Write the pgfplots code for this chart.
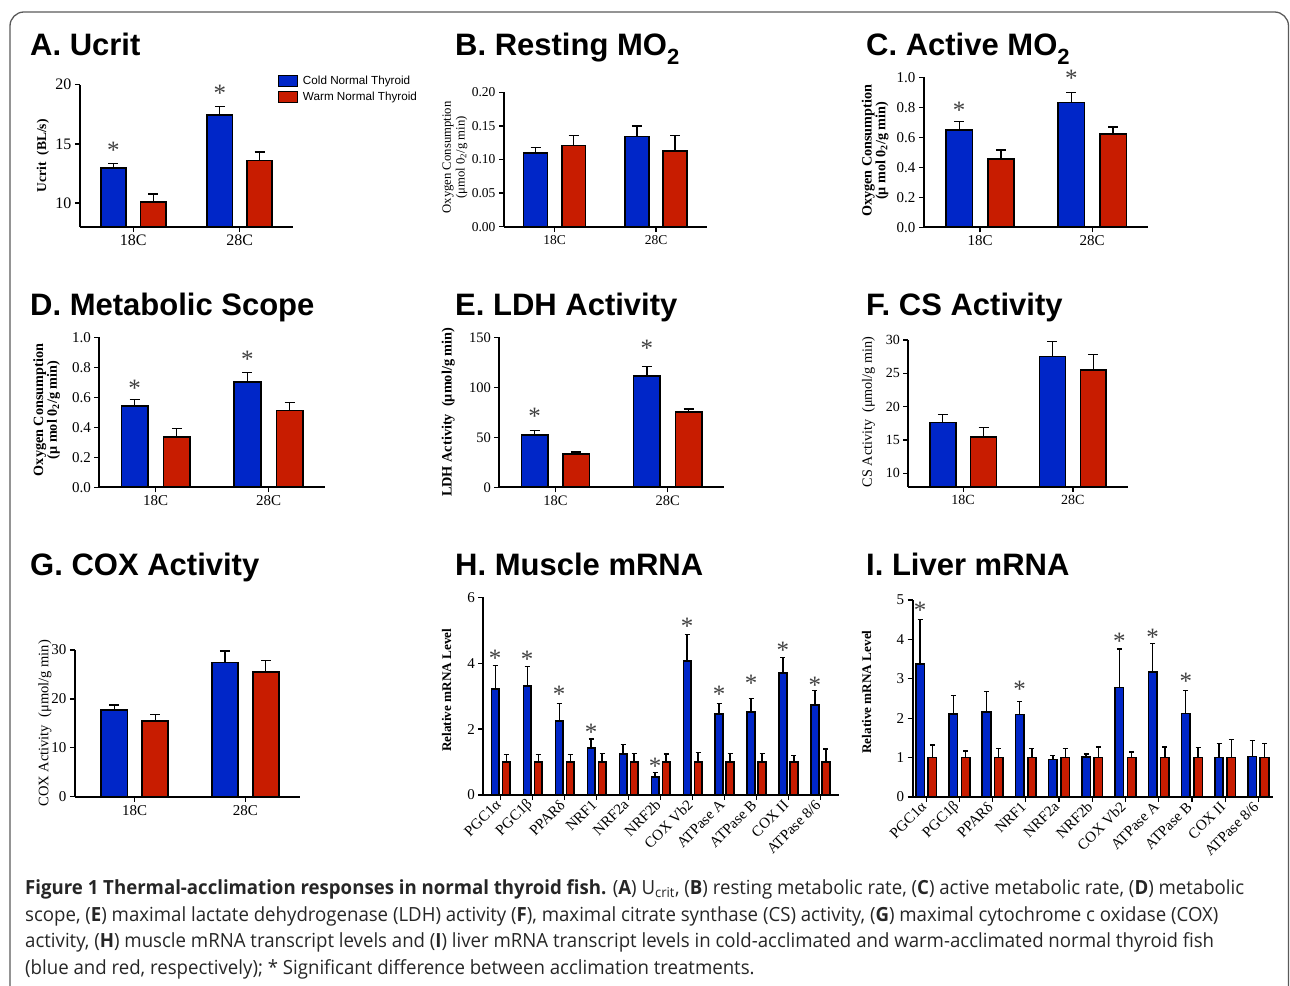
\documentclass[border=0pt]{standalone}
\usepackage{fontspec}
\setmainfont{Liberation Serif}
\newfontfamily\arialfont{Liberation Sans}
\newfontfamily\capfont[FakeStretch=0.955]{Open Sans}
\usepackage{pgfplots}
\pgfplotsset{compat=1.18}
\definecolor{cblue}{RGB}{0,38,200}
\definecolor{cred}{RGB}{200,28,0}
\definecolor{framec}{RGB}{90,90,90}
\pgfplotsset{
  panel/.style={
    scale only axis, clip=false, anchor=south west,
    axis x line*=bottom, axis y line*=left,
    axis line style={line width=1.7pt, black, -},
    tick style={line width=1.3pt, black},
    major tick length=5pt, tick align=outside,
    ybar, bar shift=0pt,
    scaled y ticks=false,
    /pgf/number format/assume math mode=true,
    tick label style={font=\fontsize{14}{14}\selectfont, black},
    ylabel style={font=\bfseries\fontsize{14.3}{15}\selectfont, anchor=center},
  },
  two/.style={panel, xmin=0.5, xmax=2.5, xtick={1,2}, xticklabels={18C,28C}, bar width=0.236},
  bl/.style={fill=cblue, draw=black, line width=1.6pt,
    error bars/.cd, y dir=plus, y explicit,
    error bar style={line width=1.3pt, black},
    error mark options={rotate=90, line width=1.3pt, black, mark size=#1}},
  bl/.default=5pt,
  rd/.style={fill=cred, draw=black, line width=1.6pt,
    error bars/.cd, y dir=plus, y explicit,
    error bar style={line width=1.3pt, black},
    error mark options={rotate=90, line width=1.3pt, black, mark size=#1}},
  rd/.default=5pt,
}
\tikzset{ast/.style={font=\fontsize{25}{25}\selectfont, text=black!75, anchor=base, yshift=-13pt, inner sep=0pt}}
\newcommand{\ttl}{\arialfont\bfseries\fontsize{31}{31}\selectfont}
\begin{document}
\begin{tikzpicture}
\path[use as bounding box] (0pt,0pt) rectangle (1290pt,985pt);
\draw[framec, line width=1.3pt, rounded corners=14pt] (10pt,-2pt) -- (10pt,973pt) -- (1288.5pt,973pt) -- (1288.5pt,-2pt);

% titles
\node[anchor=base west, inner sep=0] at (30pt,929pt) {\ttl A. Ucrit};
\node[anchor=base west, inner sep=0] at (455pt,929pt) {\ttl B. Resting MO\raisebox{-0.28em}{\fontsize{22}{22}\selectfont 2}};
\node[anchor=base west, inner sep=0] at (866pt,929pt) {\ttl C. Active MO\raisebox{-0.28em}{\fontsize{22}{22}\selectfont 2}};
\node[anchor=base west, inner sep=0] at (30pt,669pt) {\ttl D. Metabolic Scope};
\node[anchor=base west, inner sep=0] at (455pt,669pt) {\ttl E. LDH Activity};
\node[anchor=base west, inner sep=0] at (866pt,669pt) {\ttl F. CS Activity};
\node[anchor=base west, inner sep=0] at (30pt,409pt) {\ttl G. COX Activity};
\node[anchor=base west, inner sep=0] at (455pt,409pt) {\ttl H. Muscle mRNA};
\node[anchor=base west, inner sep=0] at (866pt,409pt) {\ttl I. Liver mRNA};

% A
\begin{axis}[two, at={(80pt,758.3pt)}, width=213pt, height=142pt,
  ymin=8, ymax=20, ytick={10,15,20}, clip=true, clip mode=individual,
  tick label style={font=\fontsize{16}{16}\selectfont},
  ylabel={Ucrit\ \ (BL/s)},
  ylabel style={at={(axis description cs:-0.174,0.5)}, font=\bfseries\fontsize{13.5}{14}\selectfont},
  legend style={at={(axis description cs:0.93,1.07)}, anchor=north west, draw=none, fill=none,
    font=\arialfont\fontsize{11.7}{13}\selectfont, inner sep=0pt, row sep=4pt, column sep=4pt,
    nodes={inner sep=1pt, anchor=west}},
  legend cell align=left,
  legend image code/.code={\draw[#1, line width=1.2pt] (0pt,-5.5pt) rectangle (18.5pt,5.5pt);},
]
\addplot[bl] coordinates {(0.813,12.96) +- (0,0.39) (1.813,17.46) +- (0,0.69)};
\addlegendentry{Cold Normal Thyroid}
\addplot[rd] coordinates {(1.187,10.10) +- (0,0.65) (2.187,13.58) +- (0,0.72)};
\addlegendentry{Warm Normal Thyroid}
\node[ast] at (axis cs:0.813,14.9) {*};
\node[ast] at (axis cs:1.813,19.64) {*};
\end{axis}

% B
\begin{axis}[two, at={(504pt,758.3pt)}, width=202.7pt, height=134.4pt,
  ymin=0, ymax=0.2, ytick={0,0.05,0.1,0.15,0.2},
  yticklabel style={/pgf/number format/.cd, fixed, fixed zerofill, precision=2},
  tick label style={font=\fontsize{13.5}{13.5}\selectfont},
  ylabel={Oxygen Consumption\\(μmol 0\textsubscript{2}/g min)},
  ylabel style={at={(axis description cs:-0.242,0.515)}, align=center, font=\fontsize{12.7}{13.7}\selectfont},
]
\addplot[bl] coordinates {(0.812,0.110) +- (0,0.008) (1.812,0.134) +- (0,0.016)};
\addplot[rd] coordinates {(1.188,0.121) +- (0,0.015) (2.188,0.113) +- (0,0.0225)};
\end{axis}

% C
\begin{axis}[two, at={(924pt,757.7pt)}, width=224.3pt, height=150pt,
  ymin=0, ymax=1, ytick={0,0.2,0.4,0.6,0.8,1.0},
  yticklabel style={/pgf/number format/.cd, fixed, fixed zerofill, precision=1},
  tick label style={font=\fontsize{15}{15}\selectfont},
  ylabel={Oxygen Consumption\\(μ mol 0\textsubscript{2}/g min)},
  ylabel style={at={(axis description cs:-0.218,0.51)}, align=center, font=\bfseries\fontsize{14.2}{13.7}\selectfont},
]
\addplot[bl] coordinates {(0.814,0.649) +- (0,0.055) (1.814,0.833) +- (0,0.064)};
\addplot[rd] coordinates {(1.186,0.457) +- (0,0.058) (2.186,0.622) +- (0,0.047)};
\node[ast] at (axis cs:0.814,0.81) {*};
\node[ast] at (axis cs:1.814,1.027) {*};
\end{axis}

% D
\begin{axis}[two, at={(99.3pt,497.7pt)}, width=225.7pt, height=150pt,
  ymin=0, ymax=1, ytick={0,0.2,0.4,0.6,0.8,1.0},
  yticklabel style={/pgf/number format/.cd, fixed, fixed zerofill, precision=1},
  tick label style={font=\fontsize{15}{15}\selectfont},
  ylabel={Oxygen Consumption\\(μ mol 0\textsubscript{2}/g min)},
  ylabel style={at={(axis description cs:-0.233,0.515)}, align=center, font=\bfseries\fontsize{14.2}{13.7}\selectfont},
]
\addplot[bl] coordinates {(0.813,0.542) +- (0,0.045) (1.813,0.702) +- (0,0.065)};
\addplot[rd] coordinates {(1.187,0.337) +- (0,0.054) (2.187,0.513) +- (0,0.051)};
\node[ast] at (axis cs:0.813,0.689) {*};
\node[ast] at (axis cs:1.813,0.882) {*};
\end{axis}

% E
\begin{axis}[two, at={(499.3pt,497.7pt)}, width=224.7pt, height=150pt,
  ymin=0, ymax=150, ytick={0,50,100,150},
  tick label style={font=\fontsize{14.5}{14.5}\selectfont},
  ylabel={LDH Activity\ \ (μmol/g min)},
  ylabel style={at={(axis description cs:-0.227,0.5)}},
]
\addplot[bl] coordinates {(0.814,52.0) +- (0,4.6) (1.814,111.3) +- (0,9.7)};
\addplot[rd] coordinates {(1.186,33.3) +- (0,2.0) (2.186,75.3) +- (0,3.0)};
\node[ast] at (axis cs:0.814,75.6) {*};
\node[ast] at (axis cs:1.814,143.3) {*};
\end{axis}

% F
\begin{axis}[two, at={(908.3pt,498.3pt)}, width=219.4pt, height=146.7pt,
  ymin=8, ymax=30, ytick={10,15,20,25,30}, clip=true, clip mode=individual,
  tick label style={font=\fontsize{14}{14}\selectfont},
  ylabel={CS Activity\ \ (μmol/g min)},
  ylabel style={at={(axis description cs:-0.182,0.51)}, font=\fontsize{14.2}{15}\selectfont},
]
\addplot[bl] coordinates {(0.814,17.63) +- (0,1.16) (1.814,27.5) +- (0,2.3)};
\addplot[rd] coordinates {(1.186,15.49) +- (0,1.35) (2.186,25.5) +- (0,2.3)};
\end{axis}

% G
\begin{axis}[two, xmin=0.46, xmax=2.49, at={(75pt,188.3pt)}, width=224.5pt, height=146.7pt,
  ymin=0, ymax=30, ytick={0,10,20,30},
  tick label style={font=\fontsize{15}{15}\selectfont},
  ylabel={COX Activity\ \ (μmol/g min)},
  ylabel style={at={(axis description cs:-0.134,0.5)}, font=\fontsize{14.5}{15}\selectfont},
]
\addplot[bl] coordinates {(0.815,17.67) +- (0,1.08) (1.815,27.48) +- (0,2.32)};
\addplot[rd] coordinates {(1.185,15.54) +- (0,1.31) (2.185,25.5) +- (0,2.3)};
\end{axis}

% H
\begin{axis}[panel, at={(483.3pt,190pt)}, width=356pt, height=197.7pt,
  xmin=0.455, xmax=11.59, ymin=0, ymax=6, ytick={0,2,4,6},
  tick label style={font=\fontsize{15}{15}\selectfont},
  xtick={1,...,11}, bar width=0.235,
  xticklabels={PGC1α,PGC1β,PPARδ,NRF1,NRF2a,NRF2b,COX Vb2,ATPase A,ATPase B,COX II,ATPase 8/6},
  xticklabel style={rotate=45, anchor=east, font=\fontsize{15}{15}\selectfont},
  ylabel={Relative mRNA Level},
  ylabel style={at={(axis description cs:-0.103,0.53)}, font=\bfseries\fontsize{13.2}{14}\selectfont},
]
\addplot[bl=2.5pt] coordinates {
 (0.828,3.22) +- (0,0.72) (1.828,3.30) +- (0,0.60) (2.828,2.25) +- (0,0.52)
 (3.828,1.43) +- (0,0.27) (4.828,1.25) +- (0,0.29) (5.828,0.54) +- (0,0.14)
 (6.828,4.06) +- (0,0.81) (7.828,2.45) +- (0,0.32) (8.828,2.52) +- (0,0.40)
 (9.828,3.71) +- (0,0.47) (10.828,2.74) +- (0,0.44)};
\addplot[rd=2.5pt] coordinates {
 (1.172,1.0) +- (0,0.22) (2.172,1.0) +- (0,0.22) (3.172,1.0) +- (0,0.22)
 (4.172,1.0) +- (0,0.27) (5.172,1.0) +- (0,0.27) (6.172,1.0) +- (0,0.24)
 (7.172,1.0) +- (0,0.28) (8.172,1.0) +- (0,0.25) (9.172,1.0) +- (0,0.25)
 (10.172,1.0) +- (0,0.20) (11.172,1.0) +- (0,0.40)};
\node[ast] at (axis cs:0.828,4.30) {*};
\node[ast] at (axis cs:1.828,4.25) {*};
\node[ast] at (axis cs:2.828,3.19) {*};
\node[ast] at (axis cs:3.828,2.04) {*};
\node[ast] at (axis cs:5.828,1.01) {*};
\node[ast] at (axis cs:6.828,5.26) {*};
\node[ast] at (axis cs:7.828,3.19) {*};
\node[ast] at (axis cs:8.828,3.54) {*};
\node[ast] at (axis cs:9.828,4.55) {*};
\node[ast] at (axis cs:10.828,3.49) {*};
\end{axis}

% I
\begin{axis}[panel, at={(912.7pt,188pt)}, width=360.6pt, height=197pt,
  xmin=0.594, xmax=11.45, ymin=0, ymax=5, ytick={0,1,2,3,4,5},
  tick label style={font=\fontsize{15}{15}\selectfont},
  xtick={1,...,11}, bar width=0.256,
  xticklabels={PGC1α,PGC1β,PPARδ,NRF1,NRF2a,NRF2b,COX Vb2,ATPase A,ATPase B,COX II,ATPase 8/6},
  xticklabel style={rotate=45, anchor=east, font=\fontsize{15}{15}\selectfont},
  ylabel={Relative mRNA Level},
  ylabel style={at={(axis description cs:-0.128,0.533)}, font=\bfseries\fontsize{13.2}{14}\selectfont},
]
\addplot[bl=2.5pt] coordinates {
 (0.815,3.38) +- (0,1.13) (1.815,2.11) +- (0,0.47) (2.815,2.16) +- (0,0.51)
 (3.815,2.09) +- (0,0.33) (4.815,0.95) +- (0,0.10) (5.815,1.02) +- (0,0.07)
 (6.815,2.78) +- (0,0.98) (7.815,3.18) +- (0,0.71) (8.815,2.12) +- (0,0.58)
 (9.815,1.00) +- (0,0.36) (10.815,1.03) +- (0,0.41)};
\addplot[rd=2.5pt] coordinates {
 (1.185,1.0) +- (0,0.32) (2.185,1.0) +- (0,0.17) (3.185,1.0) +- (0,0.23)
 (4.185,1.0) +- (0,0.23) (5.185,1.0) +- (0,0.23) (6.185,1.0) +- (0,0.27)
 (7.185,1.0) +- (0,0.14) (8.185,1.0) +- (0,0.27) (9.185,1.0) +- (0,0.26)
 (10.185,1.0) +- (0,0.46) (11.185,1.0) +- (0,0.35)};
\node[ast] at (axis cs:0.815,4.85) {*};
\node[ast] at (axis cs:3.815,2.86) {*};
\node[ast] at (axis cs:6.815,4.07) {*};
\node[ast] at (axis cs:7.815,4.17) {*};
\node[ast] at (axis cs:8.815,3.07) {*};
\end{axis}

% caption
\node[anchor=base west, inner sep=0, align=left, text=black!85,
  font=\capfont\fontsize{19.5}{26.4}\selectfont] at (25pt,11pt) {%
\textbf{Figure 1 Thermal-acclimation responses in normal thyroid fish.} (\textbf{A}) U\textsubscript{crit}, (\textbf{B}) resting metabolic rate, (\textbf{C}) active metabolic rate, (\textbf{D}) metabolic\\
scope, (\textbf{E}) maximal lactate dehydrogenase (LDH) activity (\textbf{F}), maximal citrate synthase (CS) activity, (\textbf{G}) maximal cytochrome c oxidase (COX)\\
activity, (\textbf{H}) muscle mRNA transcript levels and (\textbf{I}) liver mRNA transcript levels in cold-acclimated and warm-acclimated normal thyroid fish\\
(blue and red, respectively); * Significant difference between acclimation treatments.};
\end{tikzpicture}
\end{document}
